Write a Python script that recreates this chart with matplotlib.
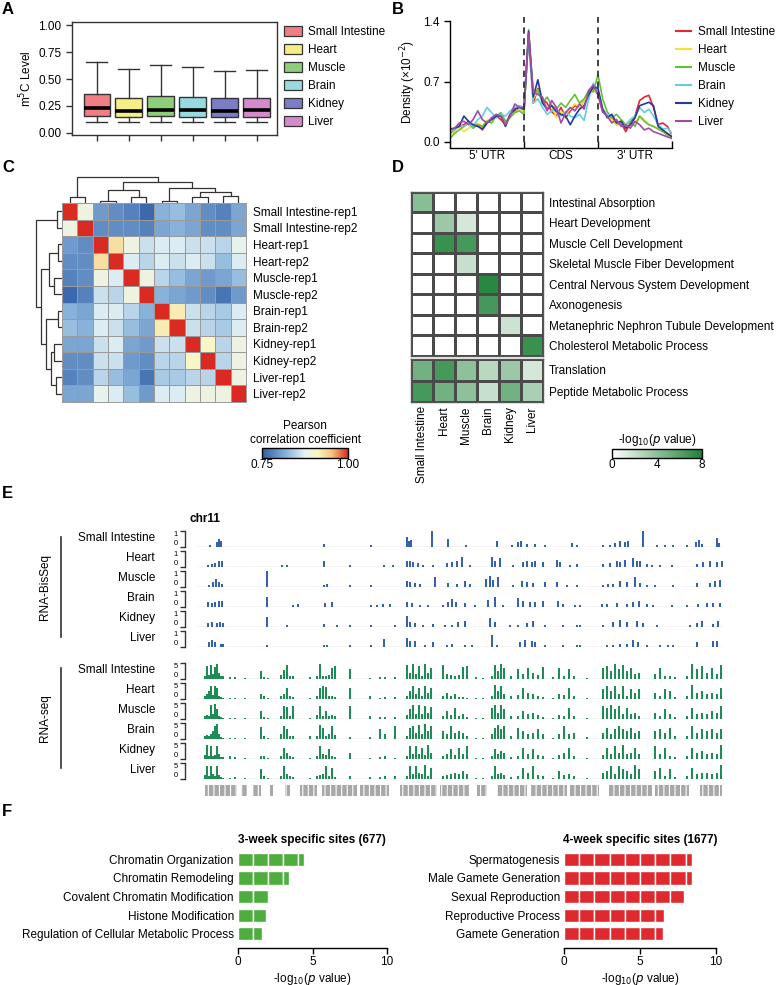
import numpy as np
import matplotlib
matplotlib.use('Agg')
import matplotlib.pyplot as plt
from matplotlib.patches import Patch
from matplotlib.lines import Line2D
from matplotlib.colors import LinearSegmentedColormap
from matplotlib.cm import ScalarMappable
from matplotlib.colors import Normalize

plt.rcParams['font.family'] = ['Liberation Sans', 'DejaVu Sans']
plt.rcParams['font.size'] = 8.5
plt.rcParams['axes.linewidth'] = 1.0

# ---------------- data ----------------
tissues = ['Small Intestine', 'Heart', 'Muscle', 'Brain', 'Kidney', 'Liver']

# A: m5C level boxplots
box_whislo = [0.10, 0.10, 0.10, 0.10, 0.10, 0.10]
box_q1 = [0.155, 0.145, 0.155, 0.150, 0.145, 0.150]
box_med = [0.230, 0.205, 0.215, 0.215, 0.205, 0.215]
box_q3 = [0.360, 0.325, 0.345, 0.335, 0.320, 0.325]
box_whishi = [0.660, 0.590, 0.635, 0.615, 0.575, 0.585]

# B: metagene density (x10^-2), 16 bins per region (5'UTR, CDS, 3'UTR)
dens_si = [0.10, 0.14, 0.18, 0.20, 0.24, 0.18, 0.20, 0.14, 0.22, 0.28, 0.30, 0.26, 0.20, 0.32, 0.36, 0.38,
           0.36, 1.25, 0.45, 0.62, 0.50, 0.45, 0.35, 0.30, 0.40, 0.28, 0.36, 0.42, 0.40, 0.48, 0.58, 0.62,
           0.55, 0.35, 0.30, 0.28, 0.20, 0.22, 0.12, 0.22, 0.30, 0.48, 0.52, 0.54, 0.40, 0.20, 0.22, 0.18, 0.08]
dens_heart = [0.08, 0.12, 0.18, 0.12, 0.16, 0.20, 0.22, 0.18, 0.25, 0.26, 0.32, 0.30, 0.22, 0.30, 0.34, 0.38,
              0.35, 1.22, 0.50, 0.60, 0.48, 0.40, 0.42, 0.28, 0.35, 0.32, 0.38, 0.44, 0.40, 0.48, 0.55, 0.60,
              0.58, 0.40, 0.30, 0.26, 0.20, 0.25, 0.18, 0.20, 0.22, 0.30, 0.26, 0.20, 0.18, 0.15, 0.12, 0.10, 0.08]
dens_muscle = [0.04, 0.10, 0.14, 0.18, 0.22, 0.16, 0.20, 0.18, 0.24, 0.22, 0.30, 0.34, 0.24, 0.28, 0.34, 0.36,
               0.32, 1.30, 0.55, 0.60, 0.45, 0.52, 0.42, 0.38, 0.45, 0.40, 0.48, 0.55, 0.45, 0.50, 0.60, 0.58,
               0.78, 0.50, 0.35, 0.28, 0.32, 0.26, 0.20, 0.24, 0.18, 0.30, 0.24, 0.20, 0.18, 0.15, 0.12, 0.08, 0.06]
dens_brain = [0.12, 0.14, 0.20, 0.18, 0.22, 0.18, 0.26, 0.30, 0.40, 0.34, 0.28, 0.32, 0.30, 0.36, 0.40, 0.42,
              0.40, 1.20, 0.45, 0.50, 0.40, 0.32, 0.36, 0.40, 0.30, 0.35, 0.30, 0.28, 0.32, 0.25, 0.50, 0.68,
              0.60, 0.38, 0.32, 0.30, 0.24, 0.22, 0.20, 0.26, 0.30, 0.40, 0.34, 0.38, 0.30, 0.20, 0.15, 0.16, 0.10]
dens_kidney = [0.15, 0.16, 0.18, 0.30, 0.24, 0.20, 0.18, 0.15, 0.22, 0.26, 0.30, 0.30, 0.18, 0.32, 0.38, 0.40,
               0.38, 1.28, 0.52, 0.72, 0.45, 0.38, 0.42, 0.35, 0.32, 0.30, 0.20, 0.30, 0.38, 0.42, 0.55, 0.64,
               0.62, 0.38, 0.28, 0.32, 0.22, 0.24, 0.16, 0.20, 0.28, 0.42, 0.44, 0.46, 0.42, 0.18, 0.14, 0.10, 0.06]
dens_liver = [0.14, 0.16, 0.22, 0.24, 0.20, 0.26, 0.36, 0.26, 0.22, 0.28, 0.32, 0.30, 0.20, 0.30, 0.44, 0.40,
              0.40, 1.26, 0.58, 0.55, 0.52, 0.36, 0.48, 0.40, 0.22, 0.34, 0.40, 0.36, 0.44, 0.38, 0.60, 0.66,
              0.55, 0.35, 0.30, 0.22, 0.26, 0.18, 0.20, 0.16, 0.24, 0.20, 0.14, 0.16, 0.12, 0.10, 0.08, 0.06, 0.04]
region_labels = ["5' UTR", 'CDS', "3' UTR"]

# C: Pearson correlation among replicates
samples = ['Small Intestine-rep1', 'Small Intestine-rep2', 'Heart-rep1', 'Heart-rep2',
           'Muscle-rep1', 'Muscle-rep2', 'Brain-rep1', 'Brain-rep2',
           'Kidney-rep1', 'Kidney-rep2', 'Liver-rep1', 'Liver-rep2']
corr = [
    [1.00, 0.89, 0.80, 0.79, 0.78, 0.76, 0.82, 0.83, 0.81, 0.79, 0.78, 0.81],
    [0.89, 1.00, 0.79, 0.79, 0.79, 0.78, 0.81, 0.82, 0.81, 0.79, 0.79, 0.81],
    [0.80, 0.79, 1.00, 0.93, 0.89, 0.86, 0.87, 0.87, 0.86, 0.86, 0.85, 0.88],
    [0.79, 0.79, 0.93, 1.00, 0.87, 0.85, 0.87, 0.86, 0.87, 0.86, 0.83, 0.87],
    [0.78, 0.79, 0.89, 0.87, 1.00, 0.89, 0.85, 0.83, 0.81, 0.80, 0.81, 0.83],
    [0.76, 0.78, 0.86, 0.85, 0.89, 1.00, 0.82, 0.81, 0.80, 0.79, 0.77, 0.80],
    [0.82, 0.81, 0.87, 0.87, 0.85, 0.82, 1.00, 0.92, 0.86, 0.85, 0.84, 0.87],
    [0.83, 0.82, 0.87, 0.86, 0.83, 0.81, 0.92, 1.00, 0.86, 0.85, 0.84, 0.87],
    [0.81, 0.81, 0.86, 0.87, 0.81, 0.80, 0.86, 0.86, 1.00, 0.91, 0.85, 0.89],
    [0.79, 0.79, 0.86, 0.86, 0.80, 0.79, 0.85, 0.85, 0.91, 1.00, 0.85, 0.89],
    [0.78, 0.79, 0.85, 0.83, 0.81, 0.77, 0.84, 0.84, 0.85, 0.85, 1.00, 0.89],
    [0.81, 0.81, 0.88, 0.87, 0.83, 0.80, 0.87, 0.87, 0.89, 0.89, 0.89, 1.00]]
# dendrograms: (left, right, height), leaves are column/row indices
tree_top = ((0, 1, 17), (((2, 3, 5), (4, 5, 17), 40),
                         ((6, 7, 5), ((8, 9, 17), (10, 11, 20), 32), 45), 63), 77)
tree_left = ((0, 1, 15), (((2, 3, 12), (4, 5, 22), 39),
                          ((6, 7, 12), ((8, 9, 22), (10, 11, 19), 32), 47), 62), 75)

# D: GO enrichment -log10(p)
go_specific = ['Intestinal Absorption', 'Heart Development', 'Muscle Cell Development',
               'Skeletal Muscle Fiber Development', 'Central Nervous System Development',
               'Axonogenesis', 'Metanephric Nephron Tubule Development', 'Cholesterol Metabolic Process']
go_specific_vals = [
    [4.2, 0, 0, 0, 0, 0],
    [0, 3.5, 1.5, 0, 0, 0],
    [0, 7.0, 6.5, 0, 0, 0],
    [0, 0, 2.0, 0, 0, 0],
    [0, 0, 0, 7.6, 0, 0],
    [0, 0, 0, 6.6, 0, 0],
    [0, 0, 0, 0, 1.8, 0],
    [0, 0, 0, 0, 0, 7.0]]
go_common = ['Translation', 'Peptide Metabolic Process']
go_common_vals = [
    [5.0, 6.5, 4.0, 2.5, 3.5, 1.5],
    [6.5, 5.0, 4.0, 2.0, 5.0, 3.0]]

# E: genome browser tracks on chr11 (positions in bins across the shown region)
bis_pos_si = [13, 20, 22, 24, 127, 174, 210, 212, 214, 235, 251, 269, 300, 315, 321, 324, 330, 338, 348, 375, 380,
              406, 413, 418, 423, 428, 431, 446, 460, 468, 476, 490, 499, 502, 505, 520, 522]
bis_h_si = [0.15, 0.3, 0.5, 0.35, 0.2, 0.15, 0.6, 0.35, 0.45, 1.0, 0.5, 0.15, 0.4, 0.15, 0.3, 0.35, 0.2, 0.2, 0.15,
            0.25, 0.15, 0.1, 0.15, 0.25, 0.35, 0.3, 0.35, 1.0, 0.1, 0.1, 0.1, 0.1, 0.3, 0.45, 0.2, 0.55, 0.25]
bis_pos_heart = [11, 15, 18, 22, 25, 85, 90, 127, 153, 187, 196, 210, 213, 216, 221, 226, 236, 250, 255, 260, 265,
                 273, 295, 298, 303, 316, 326, 330, 335, 338, 346, 360, 363, 373, 380, 406, 413, 420, 423, 428,
                 436, 440, 443, 450, 455, 463, 475, 500, 506, 513, 520, 525]
bis_h_heart = [0.15, 0.2, 0.25, 0.35, 0.35, 0.15, 0.15, 0.35, 0.1, 0.15, 0.15, 0.4, 0.35, 0.3, 0.25, 0.15, 0.1,
               0.25, 0.3, 0.35, 0.6, 0.15, 0.6, 0.4, 0.55, 0.15, 0.3, 0.35, 0.3, 0.4, 0.3, 0.45, 0.3, 0.15, 0.2,
               0.2, 0.25, 0.35, 0.3, 0.45, 0.55, 0.35, 0.4, 0.2, 0.15, 0.1, 0.15, 0.2, 0.3, 0.35, 0.3, 0.35]
bis_pos_muscle = [12, 16, 19, 22, 25, 70, 127, 130, 153, 174, 210, 213, 218, 223, 238, 251, 260, 268, 273, 289,
                  293, 296, 301, 316, 325, 330, 336, 348, 360, 370, 380, 406, 411, 416, 423, 430, 438, 443, 450,
                  458, 476, 500, 513, 518, 523]
bis_h_muscle = [0.15, 0.3, 0.5, 0.3, 0.2, 1.0, 0.15, 0.2, 0.1, 0.15, 0.35, 0.3, 0.25, 0.2, 0.6, 0.25, 0.2, 0.4,
                0.2, 0.5, 0.7, 0.45, 0.6, 0.15, 0.35, 0.3, 0.25, 0.3, 0.3, 0.15, 0.15, 0.15, 0.2, 0.2, 0.35, 0.3,
                0.6, 0.25, 0.15, 0.15, 0.15, 0.25, 0.25, 0.35, 0.45]
bis_pos_brain = [11, 15, 18, 22, 25, 70, 96, 101, 128, 135, 174, 180, 186, 193, 210, 215, 223, 231, 246, 251,
                 255, 259, 268, 278, 291, 298, 306, 321, 326, 333, 338, 346, 361, 366, 378, 383, 405, 410, 420,
                 430, 436, 442, 450, 456, 475, 490, 501, 510, 516, 523]
bis_h_brain = [0.3, 0.25, 0.3, 0.4, 0.35, 0.6, 0.15, 0.2, 0.25, 0.3, 0.15, 0.15, 0.2, 0.2, 0.3, 0.25, 0.15, 0.15,
               0.15, 0.3, 0.5, 0.3, 0.25, 0.15, 0.45, 0.6, 0.15, 0.55, 0.35, 0.3, 0.3, 0.35, 0.4, 0.2, 0.1, 0.1,
               0.2, 0.2, 0.25, 0.2, 0.3, 0.4, 0.2, 0.15, 0.1, 0.1, 0.2, 0.25, 0.25, 0.25]
bis_pos_kidney = [11, 15, 20, 23, 26, 70, 90, 127, 140, 153, 174, 198, 210, 213, 218, 226, 236, 248, 255, 261,
                  268, 293, 298, 313, 321, 330, 336, 348, 366, 380, 383, 406, 416, 423, 430, 440, 446, 460, 493,
                  500, 505, 516, 521]
bis_h_kidney = [0.25, 0.3, 0.25, 0.3, 0.25, 0.6, 0.15, 0.2, 0.1, 0.1, 0.1, 0.15, 0.7, 0.3, 0.25, 0.15, 0.2, 0.15,
                0.15, 0.3, 0.35, 0.55, 0.3, 0.15, 0.15, 0.25, 0.4, 0.15, 0.15, 0.15, 0.15, 0.15, 0.3, 0.45, 0.3,
                0.35, 0.25, 0.1, 0.1, 0.25, 0.4, 0.2, 0.35]
bis_pos_liver = [12, 15, 18, 24, 26, 70, 127, 130, 153, 174, 187, 210, 213, 218, 228, 236, 250, 255, 268, 275,
                 295, 300, 323, 328, 335, 338, 348, 366, 380, 383, 410, 416, 423, 430, 436, 441, 450, 463, 471,
                 476, 500, 516, 520]
bis_h_liver = [0.3, 0.45, 0.3, 0.2, 0.2, 0.15, 0.15, 0.1, 0.1, 0.15, 0.5, 0.55, 0.35, 0.35, 0.15, 0.3, 0.15, 0.2,
               0.15, 0.15, 0.75, 0.15, 0.3, 0.45, 0.35, 0.3, 0.15, 0.15, 0.15, 0.1, 0.1, 0.15, 0.2, 0.2, 0.45, 0.3,
               0.15, 0.15, 0.15, 0.15, 0.3, 0.35, 0.4]

rna_pos = [8, 10, 12, 14, 16, 18, 20, 22, 24, 26, 33, 38, 48, 64, 67, 71, 84, 87, 90, 93, 96, 113,
           120, 123, 126, 129, 132, 135, 138, 153, 173, 183, 188, 198,
           210, 213, 216, 219, 222, 225, 228, 231, 234, 246, 250, 254, 258, 262, 266, 270, 279, 286,
           295, 298, 301, 304, 307, 314, 321, 326, 331, 336, 341, 346, 356, 362, 367, 372, 377, 390,
           406, 410, 414, 418, 422, 426, 430, 434, 438, 442, 458, 463, 468, 473, 478,
           490, 495, 500, 505, 510, 515, 520, 524]
rna_h_si = [1.0, 4.0, 1.2, 4.5, 1.5, 3.8, 4.8, 2.0, 1.0, 0.8, 0.6, 0.5, 0.4, 2.5, 0.6, 0.4,
            1.2, 2.8, 4.5, 1.0, 0.8, 0.5, 1.0, 4.8, 1.0, 0.8, 1.2, 3.5, 4.2, 3.0, 0.4, 0.6, 0.5, 0.5,
            4.5, 2.0, 4.8, 1.5, 4.2, 1.0, 4.6, 2.0, 3.5, 4.5, 1.5, 1.2, 1.0, 1.2, 3.8, 4.0, 0.5, 0.4,
            1.0, 4.5, 2.5, 4.8, 3.5, 0.8, 3.0, 1.5, 3.5, 2.0, 1.2, 3.8, 0.5, 3.5, 1.0, 3.0, 0.8, 0.4,
            3.5, 4.0, 2.5, 4.8, 3.0, 4.5, 2.5, 3.5, 1.5, 2.0, 1.5, 3.5, 1.0, 0.8, 0.6,
            1.0, 4.8, 3.0, 4.0, 2.0, 3.5, 1.5, 4.5]
rna_h_heart = [0.8, 1.5, 2.5, 4.0, 1.2, 4.2, 3.5, 1.0, 0.6, 0.4, 0.3, 0.3, 0.3, 1.5, 0.8, 0.3,
               0.8, 1.5, 3.5, 1.0, 0.6, 0.4, 1.0, 3.5, 4.0, 3.8, 1.0, 0.8, 0.5, 3.5, 1.0, 0.4, 0.5, 0.5,
               1.0, 2.5, 4.2, 1.5, 3.5, 1.0, 4.0, 2.0, 3.5, 1.0, 2.0, 0.8, 1.5, 0.6, 0.5, 0.4, 0.4, 0.3,
               1.0, 4.5, 2.5, 4.2, 1.5, 0.8, 1.2, 3.5, 2.0, 1.5, 1.0, 0.6, 0.3, 1.5, 1.2, 3.5, 0.8, 0.3,
               3.0, 4.0, 2.5, 4.2, 1.5, 4.0, 1.0, 3.0, 2.0, 3.0, 2.0, 1.0, 3.0, 2.5, 0.6,
               0.8, 4.5, 2.0, 2.5, 1.5, 2.0, 1.5, 3.5]
rna_h_muscle = [0.8, 1.2, 1.0, 4.5, 1.5, 4.8, 3.0, 1.0, 0.5, 0.4, 0.3, 0.3, 0.4, 2.5, 0.6, 0.3,
                1.0, 4.0, 3.8, 0.8, 4.0, 0.3, 1.2, 4.2, 1.0, 2.5, 1.0, 1.2, 0.8, 4.0, 1.0, 0.5, 0.5, 0.6,
                1.2, 3.0, 4.5, 1.5, 4.5, 1.5, 4.2, 2.0, 3.8, 1.0, 2.5, 1.2, 3.5, 1.0, 1.5, 0.6, 0.4, 0.4,
                3.5, 4.5, 2.0, 4.5, 3.0, 0.8, 1.0, 2.5, 1.5, 1.8, 1.2, 0.6, 0.3, 1.2, 1.0, 3.5, 1.0, 0.3,
                4.0, 3.5, 4.5, 3.0, 4.0, 1.5, 3.5, 1.5, 2.0, 1.0, 2.0, 1.0, 3.0, 1.5, 0.6,
                0.8, 3.5, 1.5, 2.0, 1.5, 2.5, 2.0, 4.0]
rna_h_brain = [1.0, 1.2, 1.0, 1.5, 2.5, 4.0, 4.8, 1.5, 0.6, 0.4, 0.4, 0.3, 0.3, 3.8, 1.0, 0.3,
               1.5, 4.0, 3.0, 1.0, 0.8, 1.0, 0.8, 4.5, 3.5, 1.0, 1.5, 4.0, 1.2, 0.6, 0.5, 3.0, 1.5, 4.0,
               1.0, 3.5, 4.2, 2.0, 4.5, 1.5, 4.8, 2.5, 4.0, 2.5, 1.5, 4.0, 2.0, 2.5, 2.0, 0.8, 0.4, 0.3,
               1.5, 3.5, 4.5, 3.0, 4.0, 0.8, 3.5, 2.5, 1.5, 2.0, 3.0, 1.5, 0.4, 1.5, 4.0, 1.5, 2.0, 0.5,
               2.0, 3.5, 1.5, 3.0, 4.0, 3.0, 2.5, 3.5, 2.0, 2.5, 2.5, 3.0, 2.0, 3.5, 0.8,
               0.8, 4.0, 2.0, 3.0, 2.5, 3.0, 2.0, 3.0]
rna_h_kidney = [1.2, 4.5, 1.0, 4.0, 1.0, 1.2, 4.2, 1.5, 0.6, 0.5, 0.8, 0.6, 0.4, 1.0, 0.8, 0.3,
                0.8, 3.5, 2.0, 1.0, 0.6, 0.4, 1.0, 4.0, 1.5, 1.2, 3.0, 1.0, 0.5, 2.0, 0.4, 0.5, 1.0, 0.4,
                1.0, 4.0, 1.5, 4.2, 1.5, 3.5, 1.2, 4.5, 2.0, 1.0, 1.5, 3.0, 1.2, 3.5, 1.5, 4.0, 0.4, 0.3,
                1.0, 3.0, 1.5, 2.5, 2.0, 0.5, 1.0, 3.5, 1.5, 3.0, 1.2, 0.8, 0.4, 1.2, 2.0, 3.5, 0.8, 0.4,
                1.2, 3.5, 1.5, 4.0, 2.0, 4.5, 1.5, 2.0, 3.5, 1.5, 4.0, 1.5, 3.5, 1.0, 0.6,
                0.8, 3.5, 2.0, 2.5, 1.5, 2.0, 1.5, 4.5]
rna_h_liver = [1.2, 4.0, 1.0, 4.2, 1.5, 1.0, 4.0, 1.2, 0.5, 0.4, 0.4, 0.5, 0.4, 3.0, 1.0, 0.3,
               1.0, 4.0, 1.5, 1.0, 0.6, 0.3, 0.8, 1.2, 1.5, 4.2, 1.0, 3.5, 0.6, 0.8, 0.5, 0.6, 0.8, 1.0,
               1.0, 4.2, 1.5, 4.0, 2.0, 1.5, 4.5, 1.0, 3.5, 1.0, 1.2, 1.5, 2.0, 1.5, 2.5, 1.5, 0.4, 0.3,
               1.0, 4.0, 1.5, 2.0, 1.2, 0.5, 1.0, 3.5, 2.0, 4.0, 1.2, 0.8, 0.4, 2.5, 1.2, 1.5, 1.0, 0.4,
               2.0, 2.5, 4.2, 1.5, 4.0, 3.0, 2.5, 1.5, 4.5, 3.0, 2.5, 3.5, 1.0, 3.0, 0.6,
               0.8, 3.5, 1.5, 2.0, 2.0, 1.5, 2.0, 4.5]
gene_starts = [8, 44, 56, 72, 88, 103, 125, 163, 203, 243, 280, 300, 333, 372, 412, 458, 503]
gene_ends = [40, 50, 64, 76, 93, 120, 160, 192, 240, 272, 290, 330, 370, 402, 455, 492, 525]

# F: GO enrichment for age-specific sites
f3_terms = ['Chromatin Organization', 'Chromatin Remodeling', 'Covalent Chromatin Modification',
            'Histone Modification', 'Regulation of Cellular Metabolic Process']
f3_vals = [4.4, 3.4, 2.0, 1.9, 1.6]
f4_terms = ['Spermatogenesis', 'Male Gamete Generation', 'Sexual Reproduction',
            'Reproductive Process', 'Gamete Generation']
f4_vals = [8.4, 8.4, 7.9, 6.6, 6.5]

# ---------------- styling ----------------
box_colors = ['#F07E83', '#F4EE85', '#8DCF78', '#97DADF', '#7B7EC4', '#D58BCB']
line_colors = ['#E8262E', '#EEE52E', '#66BF3A', '#66CBE5', '#273A98', '#A44AA6']
FS = 8.5

W, H = 777, 985
fig = plt.figure(figsize=(W / 100, H / 100), dpi=100)


def rect(x0, y0, x1, y1):
    return [x0 / W, 1 - y1 / H, (x1 - x0) / W, (y1 - y0) / H]


def ftext(x, y, s, **kw):
    return fig.text(x / W, 1 - y / H, s, **kw)


for lab, (x, y) in zip('ABCDEF', [(2, 9), (392, 9), (2, 167), (392, 167), (2, 493), (2, 812)]):
    ftext(x, y, lab, fontsize=12, fontweight='bold', va='center', ha='left')

# ---------------- A ----------------
axA = fig.add_axes(rect(72, 22, 277, 135))
stats = []
for i in range(6):
    stats.append(dict(whislo=box_whislo[i], q1=box_q1[i], med=box_med[i], q3=box_q3[i],
                      whishi=box_whishi[i], fliers=[]))
bp = axA.bxp(stats, positions=np.arange(1, 7), widths=0.84, capwidths=0.66, patch_artist=True,
             showfliers=False,
             boxprops=dict(edgecolor='#333333', linewidth=1.0),
             medianprops=dict(color='black', linewidth=2.6),
             whiskerprops=dict(color='#333333', linewidth=1.0),
             capprops=dict(color='#333333', linewidth=1.0))
for patch, c in zip(bp['boxes'], box_colors):
    patch.set_facecolor(c)
axA.set_xlim(0.22, 6.63)
axA.set_ylim(-0.02, 1.03)
axA.set_yticks([0, 0.25, 0.5, 0.75, 1.0])
axA.set_yticklabels(['0.00', '0.25', '0.50', '0.75', '1.00'], fontsize=FS)
axA.set_xticks(np.arange(1, 7))
axA.set_xticklabels([])
axA.tick_params(length=4, width=1, color='#333333')
for s in axA.spines.values():
    s.set_color('#333333')
axA.set_ylabel('m$^5$C Level', fontsize=FS, labelpad=3)
handlesA = [Patch(facecolor=c, edgecolor='#333333', linewidth=0.9) for c in box_colors]
fig.legend(handlesA, tissues, loc='upper left', bbox_to_anchor=(284 / W, 1 - 26 / H), frameon=False,
           fontsize=FS, handlelength=1.55, handleheight=0.95, handletextpad=0.45, labelspacing=0.5,
           borderpad=0, borderaxespad=0)

# ---------------- B ----------------
axB = fig.add_axes(rect(450, 21, 672, 142))
xb = np.arange(len(dens_si)) / 16.0
for d, c in zip([dens_si, dens_heart, dens_muscle, dens_brain, dens_kidney, dens_liver], line_colors):
    axB.plot(xb, d, color=c, lw=1.2, solid_joinstyle='round')
axB.set_xlim(0, 3)
axB.set_ylim(0, 1.4)
axB.set_yticks([0, 0.7, 1.4])
axB.set_yticklabels(['0.0', '0.7', '1.4'], fontsize=FS)
for x in [1, 2]:
    axB.axvline(x, ymin=0, ymax=1.03, color='#333333', lw=1.3, ls=(0, (3.5, 2.5)), clip_on=False)
axB.spines['top'].set_visible(False)
axB.spines['right'].set_visible(False)
axB.spines['bottom'].set_position(('outward', 4))
axB.set_xticks([0, 1, 2, 3])
axB.set_xticklabels([])
axB.tick_params(axis='x', direction='in', length=5, width=1)
axB.set_xticks([0.5, 1.5, 2.5], minor=True)
axB.set_xticklabels(region_labels, minor=True, fontsize=FS)
axB.tick_params(axis='x', which='minor', length=0, pad=2)
axB.tick_params(axis='y', length=4, width=1)
axB.set_ylabel('Density (×10$^{-2}$)', fontsize=FS, labelpad=4)
handlesB = [Line2D([0], [0], color=c, lw=1.5) for c in line_colors]
fig.legend(handlesB, tissues, loc='upper left', bbox_to_anchor=(676 / W, 1 - 26 / H), frameon=False,
           fontsize=FS, handlelength=1.3, handleheight=0.95, handletextpad=0.6, labelspacing=0.5,
           borderpad=0, borderaxespad=0)

# ---------------- C ----------------
cmapC = LinearSegmentedColormap.from_list('pcc', [(0, '#2F5DA6'), (0.3, '#8FB9DD'), (0.5, '#E4F2F4'),
                                                  (0.65, '#FAF5C2'), (0.82, '#F6BE79'), (1.0, '#D92B22')])
axC = fig.add_axes(rect(62, 203, 246, 402))
axC.pcolormesh(np.array(corr), cmap=cmapC, vmin=0.75, vmax=1.0, edgecolors='#9a9a9a', linewidth=0.7)
axC.set_xlim(0, 12)
axC.set_ylim(12, 0)
axC.set_xticks([])
axC.yaxis.tick_right()
axC.set_yticks(np.arange(12) + 0.5)
axC.set_yticklabels(samples, fontsize=FS)
axC.tick_params(axis='y', length=0, pad=5)
for s in axC.spines.values():
    s.set_color('#9a9a9a')
    s.set_linewidth(0.7)


def draw_tree(ax, node, orient):
    if isinstance(node, int):
        return node + 0.5, 0.0
    l, r, h = node
    pl, hl = draw_tree(ax, l, orient)
    pr, hr = draw_tree(ax, r, orient)
    if orient == 'top':
        ax.plot([pl, pl, pr, pr], [hl, h, h, hr], color='#333333', lw=0.9, solid_capstyle='butt')
    else:
        ax.plot([hl, h, h, hr], [pl, pl, pr, pr], color='#333333', lw=0.9, solid_capstyle='butt')
    return (pl + pr) / 2, h


axCt = fig.add_axes(rect(62, 176, 246, 203))
draw_tree(axCt, tree_top, 'top')
axCt.set_xlim(0, 12)
axCt.set_ylim(0, 80)
axCt.axis('off')
axCl = fig.add_axes(rect(34, 203, 62, 402))
draw_tree(axCl, tree_left, 'left')
axCl.set_ylim(12, 0)
axCl.set_xlim(82, 0)
axCl.axis('off')

caxC = fig.add_axes(rect(262, 448, 348, 458))
cbC = fig.colorbar(ScalarMappable(Normalize(0.75, 1.0), cmapC), cax=caxC, orientation='horizontal')
cbC.set_ticks([0.75, 1.0])
cbC.set_ticklabels(['0.75', '1.00'])
caxC.tick_params(length=0, labelsize=FS, pad=1)
cbC.outline.set_linewidth(1.0)
ftext(305, 426, 'Pearson', ha='center', va='center', fontsize=FS)
ftext(305, 440, 'correlation coefficient', ha='center', va='center', fontsize=FS)

# ---------------- D ----------------
cmapD = LinearSegmentedColormap.from_list('gd', ['#FFFFFF', '#1E8236'])
axD1 = fig.add_axes(rect(411, 192, 543, 356))
axD1.pcolormesh(np.array(go_specific_vals), cmap=cmapD, vmin=0, vmax=8, edgecolors='#4a4a4a', linewidth=0.8)
axD1.set_xlim(0, 6)
axD1.set_ylim(8, 0)
axD1.set_xticks([])
axD1.yaxis.tick_right()
axD1.set_yticks(np.arange(8) + 0.5)
axD1.set_yticklabels(go_specific, fontsize=FS)
axD1.tick_params(axis='y', length=0, pad=4)
axD2 = fig.add_axes(rect(411, 359, 543, 402))
axD2.pcolormesh(np.array(go_common_vals), cmap=cmapD, vmin=0, vmax=8, edgecolors='#4a4a4a', linewidth=0.8)
axD2.set_xlim(0, 6)
axD2.set_ylim(2, 0)
axD2.yaxis.tick_right()
axD2.set_yticks([0.5, 1.5])
axD2.set_yticklabels(go_common, fontsize=FS)
axD2.tick_params(axis='y', length=0, pad=4)
axD2.set_xticks(np.arange(6) + 0.5)
axD2.set_xticklabels(tissues, rotation=90, fontsize=FS)
axD2.tick_params(axis='x', length=0, pad=3)
for a in (axD1, axD2):
    for s in a.spines.values():
        s.set_color('#555555')
        s.set_linewidth(1.0)
caxD = fig.add_axes(rect(612, 449, 702, 458))
cbD = fig.colorbar(ScalarMappable(Normalize(0, 8), cmapD), cax=caxD, orientation='horizontal')
cbD.set_ticks([0, 4, 8])
caxD.tick_params(length=0, labelsize=FS, pad=1)
cbD.outline.set_linewidth(1.0)
ftext(657, 440, '-log$_{10}$($p$ value)', ha='center', va='center', fontsize=FS)

# ---------------- E ----------------
ftext(190, 519, 'chr11', fontsize=FS, fontweight='bold', ha='left', va='center')
bis_tracks = [(bis_pos_si, bis_h_si), (bis_pos_heart, bis_h_heart), (bis_pos_muscle, bis_h_muscle),
              (bis_pos_brain, bis_h_brain), (bis_pos_kidney, bis_h_kidney), (bis_pos_liver, bis_h_liver)]
rna_tracks = [rna_h_si, rna_h_heart, rna_h_muscle, rna_h_brain, rna_h_kidney, rna_h_liver]


def track_axes(ytop, ybot, top_val):
    ax = fig.add_axes(rect(197, ytop, 723, ybot))
    ax.set_xlim(0, 526)
    ax.set_ylim(0, top_val)
    for k in ['top', 'right', 'bottom']:
        ax.spines[k].set_visible(False)
    ax.spines['left'].set_position(('outward', 9))
    ax.spines['left'].set_linewidth(1.0)
    ax.spines['left'].set_color('#333333')
    ax.set_yticks([0, top_val])
    labs = ax.set_yticklabels(['0', str(top_val)], fontsize=5.5)
    labs[0].set_verticalalignment('bottom')
    labs[1].set_verticalalignment('top')
    ax.tick_params(axis='y', length=3.5, width=1.0, pad=1.2, color='#333333')
    ax.set_xticks([])
    ax.patch.set_alpha(0)
    ax.axhline(0, color='#d0d0d0', lw=1.0, zorder=0)
    return ax


for i, (name, (pos, hh)) in enumerate(zip(tissues, bis_tracks)):
    ytop = 531 + 20 * i
    ax = track_axes(ytop, ytop + 16, 1)
    ax.bar(pos, hh, width=1.2, color='#3462AE', linewidth=0)
    ftext(155, ytop + 7, name, ha='right', va='center', fontsize=FS)
for i, (name, hh) in enumerate(zip(tissues, rna_tracks)):
    ytop = 663 + 20 * i
    ax = track_axes(ytop, ytop + 16, 5)
    ax.bar(rna_pos, hh, width=2.0, color='#1E8C55', linewidth=0)
    ftext(155, ytop + 7, name, ha='right', va='center', fontsize=FS)

axL = fig.add_axes([0, 0, 1, 1])
axL.set_xlim(0, W)
axL.set_ylim(H, 0)
axL.axis('off')
axL.plot([61, 61], [537, 637], color='#333333', lw=1.2)
axL.plot([61, 61], [668, 768], color='#333333', lw=1.2)
axL.text(45, 587, 'RNA-BisSeq', rotation=90, ha='center', va='center', fontsize=FS)
axL.text(45, 718, 'RNA-seq', rotation=90, ha='center', va='center', fontsize=FS)

plt.rcParams['hatch.linewidth'] = 0.8
axG = fig.add_axes(rect(197, 785, 723, 796))
axG.set_xlim(0, 526)
axG.set_ylim(0, 1)
axG.broken_barh([(s, e - s) for s, e in zip(gene_starts, gene_ends)], (0, 1),
                facecolors='#a8a8a8', edgecolors='white', hatch='|||', linewidth=0)
axG.axis('off')

# ---------------- F ----------------


def seg_bars(ax, terms, vals, color):
    for i, v in enumerate(vals):
        k = 0
        while k < v:
            ax.barh(i, min(1.0, v - k), left=k, height=0.71, color=color, edgecolor='white', linewidth=1.0)
            k += 1
    ax.set_ylim(4.6, -0.5)
    ax.set_xlim(0, 10)
    ax.set_yticks(range(len(terms)))
    ax.set_yticklabels(terms, fontsize=FS)
    ax.tick_params(axis='y', length=0, pad=3)
    for k in ['top', 'right', 'left']:
        ax.spines[k].set_visible(False)
    ax.spines['bottom'].set_position(('outward', 2))
    ax.set_xticks([0, 5, 10])
    ax.tick_params(axis='x', length=4, width=1, labelsize=FS, pad=2)
    ax.set_xlabel('-log$_{10}$($p$ value)', fontsize=FS, labelpad=2)


axF1 = fig.add_axes(rect(238, 850, 387, 945))
seg_bars(axF1, f3_terms, f3_vals, '#4DAE3E')
axF2 = fig.add_axes(rect(564, 850, 716, 945))
seg_bars(axF2, f4_terms, f4_vals, '#DE2A2F')
ftext(312, 840, '3-week specific sites (677)', ha='center', va='center', fontsize=FS, fontweight='bold')
ftext(640, 840, '4-week specific sites (1677)', ha='center', va='center', fontsize=FS, fontweight='bold')

fig.savefig('out.png', dpi=100)
